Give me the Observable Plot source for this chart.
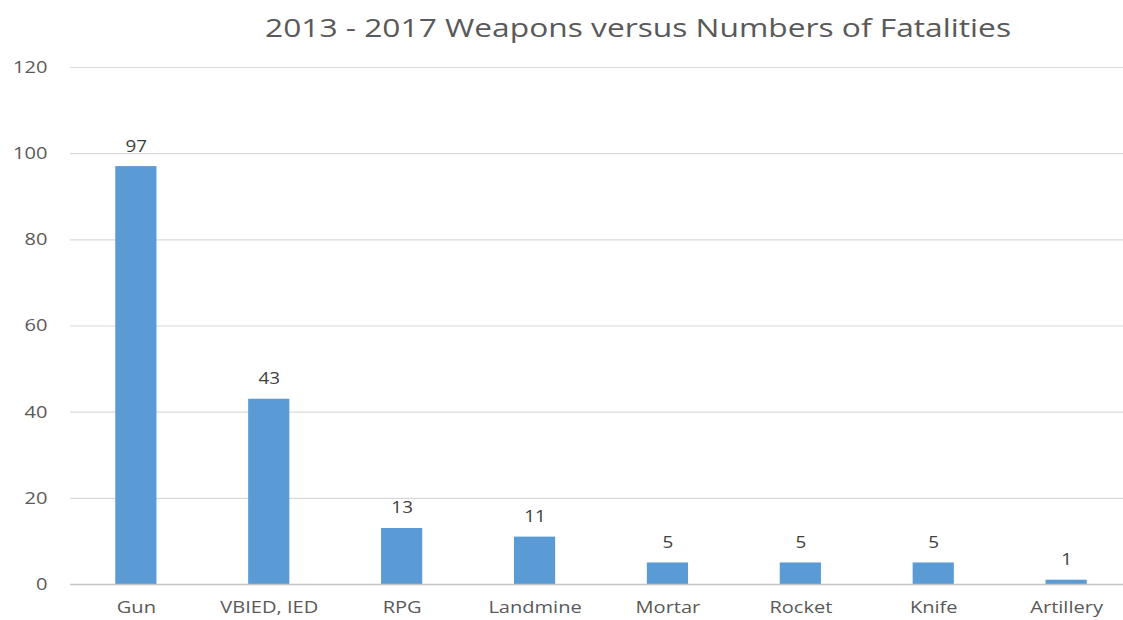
<!DOCTYPE html>
<html>
<head>
<meta charset="utf-8">
<script src="https://cdn.jsdelivr.net/npm/d3@7"></script>
<script src="https://cdn.jsdelivr.net/npm/@observablehq/plot@0.6"></script>
<style>
  html, body { margin: 0; padding: 0; background: #fff; }
  #title { height: 55px; width: 1123px; position: relative; font-family: "Open Sans", sans-serif; color: #595959; }
  #title span { position: absolute; left: 638px; top: 27px; font-size: 26px; white-space: nowrap;
    transform: translate(-50%, -50%) scaleX(1.22); }
  svg { display: block; }
</style>
</head>
<body>
<div id="title"><span>2013 - 2017 Weapons versus Numbers of Fatalities</span></div>
<div id="chart"></div>
<script>
const weapons = ["Gun", "VBIED, IED", "RPG", "Landmine", "Mortar", "Rocket", "Knife", "Artillery"];
const fatalities = [97, 43, 13, 11, 5, 5, 5, 1];
const yTicks = [0, 20, 40, 60, 80, 100, 120];

const data = weapons.map((w, i) => ({weapon: w, value: fatalities[i]}));

const plot = Plot.plot({
  width: 1123,
  height: 565,
  marginTop: 12,
  marginBottom: 36,
  marginLeft: 70,
  marginRight: 0,
  style: {fontFamily: "Open Sans, sans-serif", fontSize: "16px", color: "#595959", background: "#fff"},
  x: {domain: weapons, range: [69.4, 1132.6], paddingInner: 0.69, paddingOuter: 0.345, round: false, label: null},
  y: {domain: [0, 120], label: null},
  marks: [
    Plot.ruleY(yTicks.filter(d => d > 0), {stroke: "#d9d9d9", strokeWidth: 1.2}),
    Plot.axisY(yTicks, {tickSize: 0, tickPadding: 23, textAnchor: "end", fontSize: 17, fill: "#595959", label: null}),
    Plot.axisX({tickSize: 0, tickPadding: 16, fontSize: 17, fill: "#595959", label: null}),
    Plot.barY(data, {x: "weapon", y: "value", fill: "#5b9bd5"}),
    Plot.ruleY([0], {stroke: "#c4c4c4", strokeWidth: 1.6}),
    Plot.text(data, {x: "weapon", y: "value", text: d => String(d.value), lineAnchor: "bottom", dy: -15, fontSize: 16, fill: "#404040"})
  ]
});
document.getElementById("chart").appendChild(plot);

// widen glyphs horizontally to match the stretched look of the reference
plot.querySelectorAll("text").forEach(t => {
  const b = t.getBBox();
  const anchor = getComputedStyle(t).textAnchor;
  const cx = anchor === "end" ? b.x + b.width : anchor === "start" ? b.x : b.x + b.width / 2;
  const prev = t.getAttribute("transform") || "";
  t.setAttribute("transform", `${prev} translate(${cx},0) scale(1.18,1) translate(${-cx},0)`.trim());
});
</script>
</body>
</html>
